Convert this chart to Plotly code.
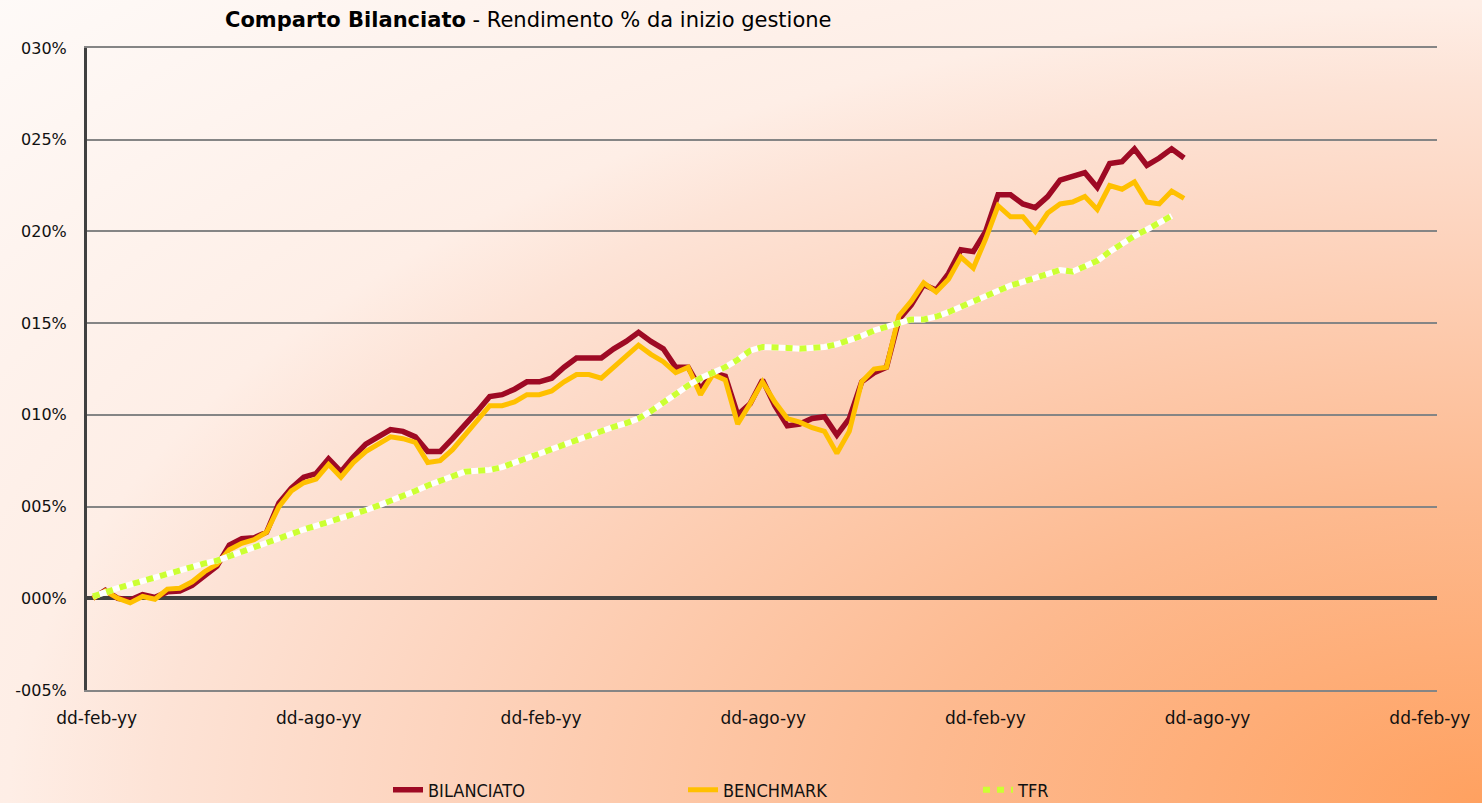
import base64
import plotly.graph_objects as go

# ---- data ----
period = list(range(89))  # 10-day observations from start of management

bilanciato = [
    0.0, 0.44, 0.0, -0.1, 0.2, 0.05, 0.35, 0.4, 0.7, 1.2,
    1.75, 2.9, 3.25, 3.3, 3.6, 5.2, 6.0, 6.6, 6.8, 7.6,
    6.9, 7.7, 8.4, 8.8, 9.2, 9.1, 8.8, 8.0, 8.0, 8.7,
    9.4, 10.2, 11.0, 11.1, 11.4, 11.8, 11.8, 12.0, 12.6, 13.1,
    13.1, 13.1, 13.6, 14.0, 14.5, 14.0, 13.6, 12.6, 12.6, 11.4,
    12.3, 12.1, 10.0, 10.6, 11.9, 10.5, 9.4, 9.5, 9.8, 9.9,
    8.9, 9.8, 11.8, 12.3, 12.6, 15.2, 16.0, 17.1, 16.8, 17.7,
    19.0, 18.9, 20.0, 22.0, 22.0, 21.5, 21.3, 21.9, 22.8, 23.0,
    23.2, 22.4, 23.7, 23.8, 24.5, 23.6, 24.0, 24.5, 24.0,
]

benchmark = [
    0.0, 0.4, 0.0, -0.25, 0.1, -0.05, 0.5, 0.55, 0.9, 1.45,
    1.85, 2.65, 3.0, 3.2, 3.6, 5.0, 5.85, 6.3, 6.5, 7.3,
    6.6, 7.4, 8.0, 8.4, 8.8, 8.7, 8.5, 7.4, 7.5, 8.1,
    8.9, 9.6, 10.5, 10.5, 10.7, 11.1, 11.1, 11.3, 11.8, 12.2,
    12.2, 12.0, 12.6, 13.2, 13.8, 13.3, 12.9, 12.3, 12.6, 11.1,
    12.2, 11.9, 9.5, 10.6, 11.8, 10.7, 9.8, 9.6, 9.3, 9.1,
    7.9, 9.1, 11.8, 12.5, 12.6, 15.4, 16.2, 17.2, 16.7, 17.4,
    18.6, 18.0, 19.6, 21.4, 20.8, 20.8, 20.0, 21.0, 21.5, 21.6,
    21.9, 21.2, 22.5, 22.3, 22.7, 21.6, 21.5, 22.2, 21.8,
]

tfr = [
    0.1, 0.35, 0.55, 0.75, 0.95, 1.1, 1.3, 1.5, 1.7, 1.9,
    2.05, 2.3, 2.5, 2.75, 3.0, 3.3, 3.5, 3.75, 3.95, 4.15,
    4.35, 4.55, 4.8, 5.05, 5.3, 5.55, 5.85, 6.15, 6.4, 6.7,
    6.9, 6.95, 7.0, 7.15, 7.4, 7.6, 7.85, 8.1, 8.35, 8.6,
    8.85, 9.1, 9.35, 9.55, 9.8, 10.2, 10.7, 11.2, 11.6, 12.0,
    12.3, 12.6, 13.0, 13.5, 13.7, 13.7, 13.65, 13.6, 13.65, 13.7,
    13.85, 14.05, 14.3, 14.6, 14.8, 15.0, 15.2, 15.2, 15.35, 15.6,
    15.9, 16.15, 16.45, 16.75, 17.05, 17.25, 17.45, 17.7, 17.9, 17.8,
    18.1, 18.4, 18.9, 19.35, 19.75, 20.1, 20.5, 20.85,
]

x_tick_labels = ["dd-feb-yy", "dd-ago-yy", "dd-feb-yy", "dd-ago-yy",
                 "dd-feb-yy", "dd-ago-yy", "dd-feb-yy"]
y_tick_values = [-5, 0, 5, 10, 15, 20, 25, 30]
y_tick_labels = ["-005%", "000%", "005%", "010%", "015%", "020%", "025%", "030%"]

series_names = ["BILANCIATO", "BENCHMARK", "TFR"]
series_colors = ["#9E0A24", "#FFC000", "#CCFF33"]

# ---- layout geometry ----
W, H = 1482, 803
ML, MR, MT, MB = 87, 45, 48, 113
PW, PH = W - ML - MR, H - MT - MB
FONT = "DejaVu Sans, Verdana, sans-serif"
FONT_C = "DejaVu Sans Condensed, DejaVu Sans, sans-serif"

tick_step = 17.92
tick_pos = [0.3 + tick_step * i for i in range(len(x_tick_labels))]

# background gradient (white top-left -> orange bottom-right)
svg = (
    '<svg xmlns="http://www.w3.org/2000/svg" width="1482" height="803" '
    'preserveAspectRatio="none"><defs>'
    '<radialGradient id="g" cx="1" cy="1" r="1.42" fx="1" fy="1">'
    '<stop offset="0" stop-color="#FFA160"/>'
    '<stop offset="0.27" stop-color="#FDBA90"/>'
    '<stop offset="0.5" stop-color="#FDD4BE"/>'
    '<stop offset="0.63" stop-color="#FDE3D6"/>'
    '<stop offset="0.70" stop-color="#FEEEE6"/>'
    '<stop offset="1" stop-color="#FEFAF8"/>'
    '</radialGradient></defs>'
    '<rect width="1482" height="803" fill="url(#g)"/></svg>'
)
bg_uri = "data:image/svg+xml;base64," + base64.b64encode(svg.encode()).decode()

fig = go.Figure()

fig.add_trace(go.Scatter(
    x=period, y=bilanciato, name=series_names[0], mode="lines",
    line=dict(color=series_colors[0], width=5.5),
))
fig.add_trace(go.Scatter(
    x=period, y=benchmark, name=series_names[1], mode="lines",
    line=dict(color=series_colors[1], width=5),
))
fig.add_trace(go.Scatter(
    x=period[:len(tfr)], y=tfr, name=series_names[2], mode="lines",
    line=dict(color="#FFFFFF", width=6), showlegend=False, hoverinfo="skip",
))
fig.add_trace(go.Scatter(
    x=period[:len(tfr)], y=tfr, name=series_names[2], mode="lines",
    line=dict(color=series_colors[2], width=6, dash="7px,7px"),
))

fig.update_layout(
    width=W, height=H,
    margin=dict(l=ML, r=MR, t=MT, b=MB, pad=0, autoexpand=False),
    paper_bgcolor="rgba(0,0,0,0)",
    plot_bgcolor="rgba(0,0,0,0)",
    font=dict(family=FONT, color="#111111", size=16),
    showlegend=True,
    legend=dict(
        orientation="h", xref="container", yref="container",
        x=388 / W, xanchor="left",
        y=1 - 790 / H, yanchor="middle",
        entrywidth=250, entrywidthmode="pixels",
        font=dict(family=FONT_C, size=18, color="#111111"),
        bgcolor="rgba(0,0,0,0)", borderwidth=0,
    ),
    images=[dict(
        source=bg_uri, xref="paper", yref="paper",
        x=-ML / PW, y=1 + MT / PH, sizex=W / PW, sizey=H / PH,
        xanchor="left", yanchor="top", sizing="stretch", layer="below",
    )],
    annotations=[dict(
        text="<b>Comparto Bilanciato</b> - Rendimento % da inizio gestione",
        xref="paper", yref="paper", x=(223 - ML) / PW, y=1 + (MT - 20) / PH,
        xanchor="left", yanchor="middle", showarrow=False,
        font=dict(family=FONT, size=21, color="#000000"),
    )],
)

fig.update_xaxes(
    range=[-0.48, 108.4],
    tickmode="array", tickvals=tick_pos, ticktext=x_tick_labels,
    showgrid=False, zeroline=False,
    showline=True, linecolor="#858585", linewidth=2, mirror=True,
    ticks="", ticklabelstandoff=12,
    tickfont=dict(family=FONT, size=17, color="#111111"),
)
fig.update_yaxes(
    range=[-5, 30],
    tickmode="array", tickvals=y_tick_values, ticktext=y_tick_labels,
    showgrid=True, gridcolor="#858585", gridwidth=2,
    zeroline=True, zerolinecolor="#404040", zerolinewidth=4,
    showline=True, linecolor="#404040", linewidth=3,
    ticks="", ticklabelstandoff=14,
    tickfont=dict(family=FONT, size=16, color="#111111"),
)

fig.write_html("out.html")
